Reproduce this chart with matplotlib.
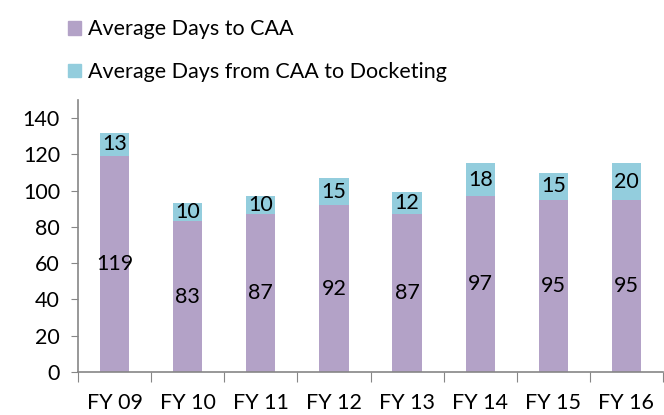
import matplotlib.pyplot as plt
from matplotlib.patches import Patch

# Data
years = ["FY 09", "FY 10", "FY 11", "FY 12", "FY 13", "FY 14", "FY 15", "FY 16"]
days_to_caa = [119, 83, 87, 92, 87, 97, 95, 95]
days_caa_to_docket = [13, 10, 10, 15, 12, 18, 15, 20]

purple = "#B3A2C7"
teal = "#93CDDD"
axis_gray = "#868686"

plt.rcParams['font.family'] = ['Lato', 'DejaVu Sans']

fig = plt.figure(figsize=(6.64, 4.15), dpi=100)
ax = fig.add_axes([78 / 664, (415 - 372) / 415, 585 / 664, 272 / 415])

x = list(range(len(years)))
width = 0.4

# Stacked bars
ax.bar(x, days_to_caa, width=width, color=purple, zorder=2)
ax.bar(x, days_caa_to_docket, width=width, bottom=days_to_caa, color=teal, zorder=2)

# Data labels in the middle of each segment
for i in x:
    ax.text(i, days_to_caa[i] / 2, str(days_to_caa[i]),
            ha="center", va="center", fontsize=15.5, color="black")
    ax.text(i, days_to_caa[i] + days_caa_to_docket[i] / 2, str(days_caa_to_docket[i]),
            ha="center", va="center", fontsize=15.5, color="black")

# Axes limits and ticks
ax.set_xlim(-0.5, len(years) - 0.5)
ax.set_ylim(0, 150)
ax.set_yticks(range(0, 141, 20))
ax.tick_params(axis="y", labelsize=15.5, length=5, color=axis_gray, pad=8)

# Category ticks at boundaries, labels at centers
ax.set_xticks([i - 0.5 for i in range(len(years) + 1)])
ax.set_xticklabels([])
ax.set_xticks(x, minor=True)
ax.set_xticklabels(years, minor=True)
ax.tick_params(axis="x", which="major", length=7, color=axis_gray, direction="out")
ax.tick_params(axis="x", which="minor", length=0, labelsize=15.5, pad=15)

for side in ["top", "right"]:
    ax.spines[side].set_visible(False)
for side in ["left", "bottom"]:
    ax.spines[side].set_color(axis_gray)
    ax.spines[side].set_linewidth(1.2)

# Legend
handles = [Patch(color=purple, label="Average Days to CAA"),
           Patch(color=teal, label="Average Days from CAA to Docketing")]
fig.legend(handles=handles, loc="upper left", bbox_to_anchor=(49 / 664, 1.0),
           frameon=False, fontsize=15.5, handlelength=0.6, handleheight=0.6,
           handletextpad=0.3, labelspacing=1.05)

fig.savefig("out.png", dpi=100)
